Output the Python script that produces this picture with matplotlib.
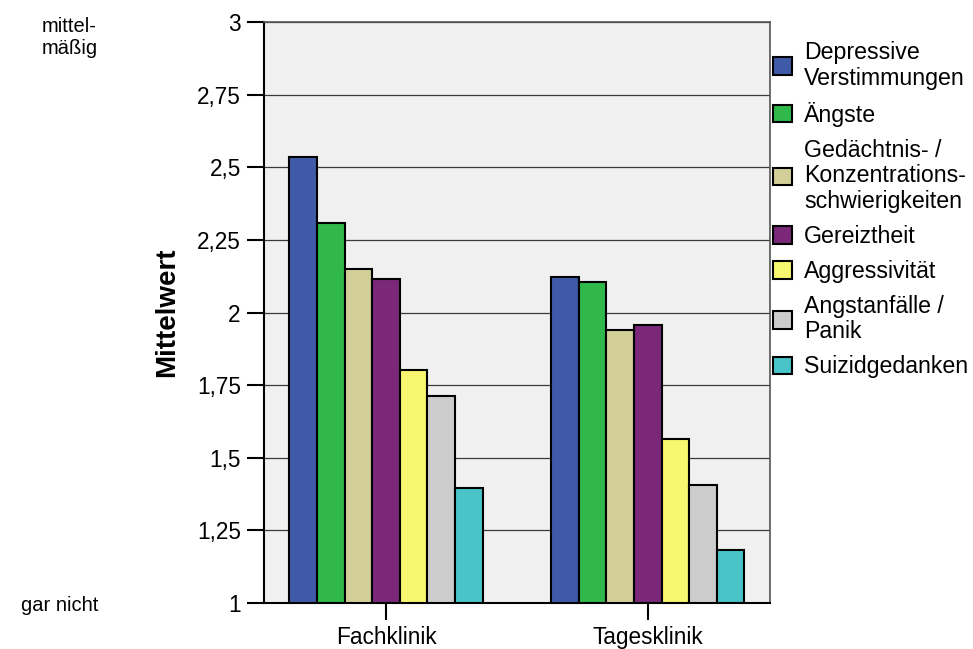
import matplotlib.pyplot as plt
import numpy as np
from matplotlib.transforms import blended_transform_factory

plt.rcParams["font.family"] = ["Liberation Sans", "DejaVu Sans"]

# Mittelwerte der Beschwerden je Klinikform (1 = gar nicht, 3 = mittelmäßig)
kliniken = ["Fachklinik", "Tagesklinik"]
symptome = [
    "Depressive\nVerstimmungen",
    "Ängste",
    "Gedächtnis- /\nKonzentrations-\nschwierigkeiten",
    "Gereiztheit",
    "Aggressivität",
    "Angstanfälle /\nPanik",
    "Suizidgedanken",
]
fachklinik = [2.534, 2.307, 2.150, 2.114, 1.802, 1.714, 1.397]
tagesklinik = [2.123, 2.106, 1.940, 1.957, 1.565, 1.406, 1.182]
farben = ["#3f5aa8", "#30b84a", "#d3cf98", "#7b2878", "#f9f66f", "#cccccc", "#49c4c8"]

y_ticks = [1, 1.25, 1.5, 1.75, 2, 2.25, 2.5, 2.75, 3]

W, H = 973, 649
fig = plt.figure(figsize=(W / 100, H / 100), dpi=100)
ax = fig.add_axes([264 / W, 1 - 603 / H, (770 - 264) / W, (603 - 22) / H])
ax.set_facecolor("#f0f0f0")

werte = np.array([fachklinik, tagesklinik])
x = np.arange(len(kliniken))
n = len(symptome)
breite = 0.1054
for i, (name, farbe) in enumerate(zip(symptome, farben)):
    ax.bar(x + (i - (n - 1) / 2) * breite, werte[:, i], breite,
           color=farbe, edgecolor="black", linewidth=1.5, label=name, zorder=3)

ax.set_ylim(1, 3)
ax.set_xlim(-0.466, 1.467)
ax.set_yticks(y_ticks)
ax.set_yticklabels([f"{v:g}".replace(".", ",") for v in y_ticks])
ax.set_xticks(x)
ax.set_xticklabels(kliniken)
ax.tick_params(axis="both", length=12.2, width=1.5, labelsize=16.3, pad=4.5,
               color="black")
ax.yaxis.grid(True, color="#3a3a3a", linewidth=0.9, zorder=1)
ax.set_axisbelow(True)

for side in ("left", "bottom"):
    ax.spines[side].set_linewidth(1.5)
    ax.spines[side].set_color("black")
for side in ("top", "right"):
    ax.spines[side].set_linewidth(1.2)
    ax.spines[side].set_color("#555555")
for sp in ax.spines.values():
    sp.set_zorder(5)

ax.set_ylabel("Mittelwert", fontsize=20, fontweight="bold")
ax.yaxis.set_label_coords(-0.165, 0.5)

trans = blended_transform_factory(ax.transAxes, ax.transData)
ax.text(-0.328, 2.948, "mittel-\nmäßig", transform=trans, ha="right", va="center",
        multialignment="left", fontsize=14.5)
ax.text(-0.328, 0.993, "gar nicht", transform=trans, ha="right", va="center",
        fontsize=14.5)

leg = ax.legend(loc="upper left", bbox_to_anchor=(773 / W, 1 - 41 / H),
                bbox_transform=fig.transFigure, frameon=False, fontsize=16.7,
                borderpad=0, borderaxespad=0, handlelength=0.8, handleheight=0.8,
                handletextpad=0.55, labelspacing=0.52)
for t in leg.get_texts():
    t.set_linespacing(1.14)

fig.savefig("out.png", dpi=100)
